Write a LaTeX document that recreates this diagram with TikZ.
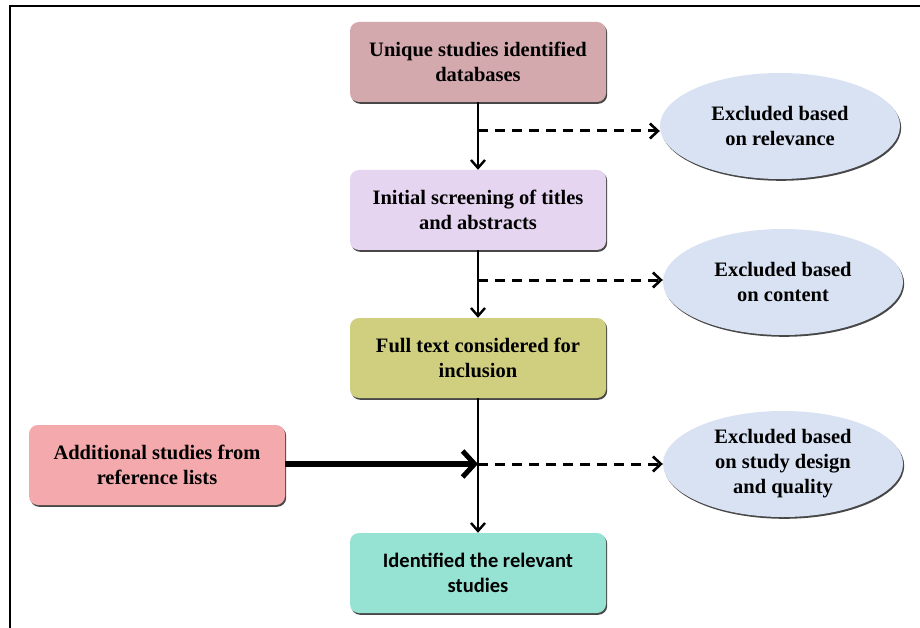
\documentclass[tikz,border=0pt]{standalone}
\usepackage{fontspec}
\setmainfont{Liberation Serif}
\newfontfamily\calfont{Carlito}
\usetikzlibrary{arrows.meta,shadows,shapes.geometric}

\definecolor{boxmauve}{HTML}{D4A9AE}
\definecolor{boxlilac}{HTML}{E5D5F0}
\definecolor{boxolive}{HTML}{D0CF80}
\definecolor{boxpink}{HTML}{F4A9AC}
\definecolor{boxteal}{HTML}{96E3D3}
\definecolor{ovalblue}{HTML}{D9E2F3}

\tikzset{
  stagebox/.style={rounded corners=9pt, minimum width=256pt, minimum height=80pt,
    align=flush center, inner sep=0pt,
    font=\fontsize{20.5}{25}\selectfont\bfseries,
    drop shadow={shadow xshift=1.2pt, shadow yshift=-1.8pt, fill=black!80, opacity=0.9}},
  exclusion/.style={ellipse, minimum width=240pt, minimum height=106pt, inner sep=0pt,
    align=flush center, fill=ovalblue,
    font=\fontsize{20.5}{25}\selectfont\bfseries,
    drop shadow={shadow xshift=1.2pt, shadow yshift=-1.8pt, fill=black!80, opacity=0.9}},
  flow/.style={line width=2.4pt, -{Straight Barb[length=8pt, width=14pt, line width=2.4pt]}},
  sidestep/.style={line width=3pt, dash pattern=on 10pt off 7pt,
    -{Straight Barb[length=8pt, width=15pt, line width=2.6pt]}},
  mergearrow/.style={line width=6pt, -{Straight Barb[length=12pt, width=26pt, line width=5pt]}},
}

\begin{document}
\begin{tikzpicture}[x=1pt, y=-1pt]
  \useasboundingbox (0,0) rectangle (920,628);
  \fill[white] (0,0) rectangle (920,628);

  % frame lines along the left and top
  \draw[line width=2pt] (9.5,628) -- (9.5,6) -- (920,6);

  % main stages
  \node[stagebox, fill=boxmauve] (b1) at (478,62) {Unique studies identified\\databases};
  \node[stagebox, fill=boxlilac] (b2) at (478,210) {Initial screening of titles\\and abstracts};
  \node[stagebox, fill=boxolive] (b3) at (478,358) {Full text considered for\\inclusion};
  \node[stagebox, fill=boxteal, font=\fontsize{20.5}{25}\selectfont\calfont\bfseries] (b4) at (478,573) {Identified the relevant\\studies};
  \node[stagebox, fill=boxpink] (b5) at (157,465) {Additional studies from\\reference lists};

  % exclusion ovals
  \node[exclusion] (e1) at (780,126) {Excluded based\\on relevance};
  \node[exclusion] (e2) at (783,282) {Excluded based\\on content};
  \node[exclusion] (e3) at (783,464) {Excluded based\\on study design\\and quality};

  % branch points on the main line
  \coordinate (j1) at (478,131);
  \coordinate (j2) at (478,280);
  \coordinate (j3) at (478,464);

  % main flow
  \draw[flow] (b1) -- (b2);
  \draw[flow] (b2) -- (b3);
  \draw[flow] (b3) -- (b4);

  % exclusions
  \draw[sidestep] (j1) -- (j1 -| e1.west);
  \draw[sidestep] (j2) -- (j2 -| e2.west);
  \draw[sidestep] (j3) -- (j3 -| e3.west);

  % additional studies joining the flow
  \draw[mergearrow] (b5.east |- j3) -- (j3);
\end{tikzpicture}
\end{document}
